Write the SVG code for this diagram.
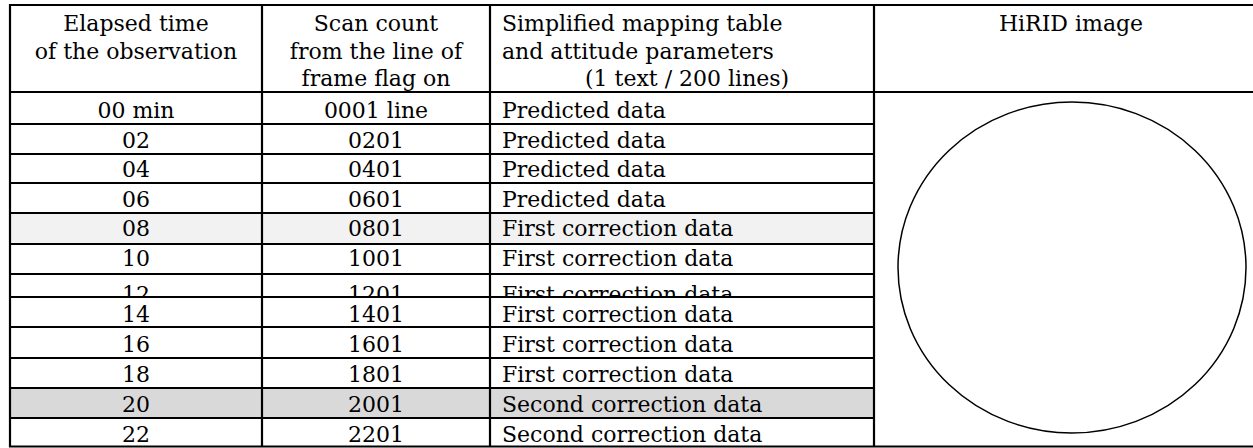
<svg xmlns="http://www.w3.org/2000/svg" width="1253" height="448" viewBox="0 0 1253 448">
<style>
text{font-family:"DejaVu Serif","Liberation Serif",serif;font-size:22px;fill:#000}
.c{text-anchor:middle}
.ln{stroke:#000;stroke-width:2.2;fill:none}
</style>
<defs>
<clipPath id="clip12"><rect x="10" y="274" width="864" height="22"/></clipPath>
</defs>
<rect x="0" y="0" width="1253" height="448" fill="#fff"/>
<rect x="10" y="213" width="864" height="31" fill="#f2f2f2"/>
<rect x="10" y="388" width="864" height="30" fill="#d9d9d9"/>
<g id="header">
<text class="c" x="136" y="31">Elapsed time</text>
<text class="c" x="136" y="59">of the observation</text>
<text class="c" x="376" y="31">Scan count</text>
<text class="c" x="376" y="59">from the line of</text>
<text class="c" x="376" y="86">frame flag on</text>
<text x="502" y="31">Simplified mapping table</text>
<text x="502" y="59">and attitude parameters</text>
<text x="585" y="86">(1 text / 200 lines)</text>
<text class="c" x="1071" y="31">HiRID image</text>
</g>
<g id="rows">
<text class="c" x="136" y="118">00 min</text><text class="c" x="376" y="118">0001 line</text><text x="502" y="118">Predicted data</text>
<text class="c" x="136" y="148">02</text><text class="c" x="376" y="148">0201</text><text x="502" y="148">Predicted data</text>
<text class="c" x="136" y="177">04</text><text class="c" x="376" y="177">0401</text><text x="502" y="177">Predicted data</text>
<text class="c" x="136" y="207">06</text><text class="c" x="376" y="207">0601</text><text x="502" y="207">Predicted data</text>
<text class="c" x="136" y="236">08</text><text class="c" x="376" y="236">0801</text><text x="502" y="236">First correction data</text>
<text class="c" x="136" y="266">10</text><text class="c" x="376" y="266">1001</text><text x="502" y="266">First correction data</text>
<g clip-path="url(#clip12)">
<text class="c" x="136" y="302">12</text><text class="c" x="376" y="302">1201</text><text x="502" y="302">First correction data</text>
</g>
<text class="c" x="136" y="322">14</text><text class="c" x="376" y="322">1401</text><text x="502" y="322">First correction data</text>
<text class="c" x="136" y="352">16</text><text class="c" x="376" y="352">1601</text><text x="502" y="352">First correction data</text>
<text class="c" x="136" y="382">18</text><text class="c" x="376" y="382">1801</text><text x="502" y="382">First correction data</text>
<text class="c" x="136" y="412">20</text><text class="c" x="376" y="412">2001</text><text x="502" y="412">Second correction data</text>
<text class="c" x="136" y="442">22</text><text class="c" x="376" y="442">2201</text><text x="502" y="442">Second correction data</text>
</g>
<g id="grid">
<path class="ln" d="M10 5H1260M10 92H1260M10 446.5H1260M10 4V447.5M262 4V447.5M490 4V447.5M874 4V447.5"/>
<path class="ln" d="M10 124H874M10 154H874M10 183H874M10 213H874M10 244H874M10 274H874M10 297H874M10 327H874M10 358H874M10 388H874M10 418H874"/>
</g>
<g id="image">
<ellipse cx="1072" cy="267.5" rx="174" ry="165.5" fill="none" stroke="#000" stroke-width="1.5"/>
</g>
</svg>
